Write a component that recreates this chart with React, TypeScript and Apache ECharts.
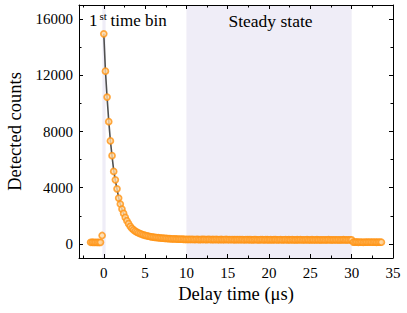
import React, { useEffect, useRef } from "react";
import * as echarts from "echarts";

// Time bins (µs): first bin centre and bin width
const binStart = -1.6;
const binWidth = 0.2;

// Detected counts per time bin
const preCounts = [118, 121, 115, 119, 113, 117, 114, 600];
const decayCounts = [
  14950, 12290, 10450, 8700, 7330, 6280, 5160, 4560, 3920, 3260,
  2840, 2480, 2170, 1890, 1650, 1440, 1250, 1110, 1005, 918,
  842, 781, 733, 688, 649, 612, 581, 549, 527, 503,
  489, 468, 457, 440, 431, 416, 409, 396, 390, 379,
  376, 365, 363, 354, 351, 345, 344, 337, 335, 330, 328,
];
const steadyCounts = [
  326, 318, 331, 322, 315, 327, 319, 312, 324, 316,
  321, 309, 318, 325, 311, 317, 306, 320, 313, 308,
  316, 304, 312, 319, 307, 301, 314, 309, 298, 311,
  305, 313, 300, 308, 296, 310, 303, 299, 307, 294,
  302, 309, 297, 293, 305, 300, 291, 306, 298, 295,
  303, 292, 299, 307, 290, 296, 301, 288, 297, 304,
  293, 299, 287, 302, 295, 289, 298, 292, 300, 286,
  296, 290, 301, 285, 294, 298, 288, 293, 299, 287,
  295, 289, 297, 284, 292, 300, 286, 294, 290, 297,
  288, 295, 283, 291, 298, 285, 293, 289, 296, 290,
];
const postCounts = [132, 125, 138, 121, 129, 134, 119, 127, 131, 124, 136, 122, 128, 133, 120, 126, 130, 123];

// Fit curve
const fitTimes = [0, 0.2, 0.4, 0.6, 0.8, 1.0, 1.2, 1.4, 1.6, 1.8, 2.0, 2.2, 2.4, 2.6, 2.8, 3.0, 3.2, 3.4, 3.6, 3.8, 4.0, 4.5, 5.0, 5.5, 6.0, 7.0, 8.0, 9.0, 10, 15, 20, 25, 30];
const fitCounts = [14950, 12300, 10420, 8740, 7340, 6240, 5230, 4520, 3900, 3290, 2840, 2470, 2160, 1890, 1650, 1450, 1265, 1115, 1000, 915, 845, 700, 612, 540, 488, 413, 372, 345, 328, 302, 295, 290, 288];

// Ticks
const xMajorTicks = [0, 5, 10, 15, 20, 25, 30, 35];
const xMinorTicks = [-2.5, 2.5, 7.5, 12.5, 17.5, 22.5, 27.5, 32.5];
const yMajorTicks = [0, 4000, 8000, 12000, 16000];
const yMinorTicks = [2000, 6000, 10000, 14000];

// Shaded regions (µs)
const shadeBands = [
  [-0.17, 0.22],
  [10, 30],
];

const FONT = "Liberation Serif";

export default function App() {
  const ref = useRef<HTMLDivElement>(null);

  useEffect(() => {
    if (!ref.current) return;
    const chart = echarts.init(ref.current, undefined, { renderer: "svg" });

    const allCounts = [...preCounts, ...decayCounts, ...steadyCounts, ...postCounts];
    const scatterData = allCounts.map((c, i) => [Math.round((binStart + i * binWidth) * 10) / 10, c]);
    const fitData = fitTimes.map((t, i) => [t, fitCounts[i]]);

    const lineStyle = { color: "#000", width: 1 };

    const xAx = (position: string, ticks: number[], len: number, showLine: boolean, showLabel: boolean, extra: any = {}) => ({
      type: "value",
      min: -3,
      max: 35,
      position,
      z: 5,
      axisLine: { show: showLine, onZero: false, lineStyle },
      axisTick: { show: true, inside: true, length: len, customValues: ticks, lineStyle },
      axisLabel: showLabel
        ? { show: true, customValues: ticks, formatter: (v: number) => String(v), fontFamily: FONT, fontSize: 15, color: "#000", margin: 7 }
        : { show: false },
      splitLine: { show: false },
      ...extra,
    });
    const yAx = (position: string, ticks: number[], len: number, showLine: boolean, showLabel: boolean, extra: any = {}) => ({
      type: "value",
      min: -1000,
      max: 17000,
      position,
      z: 5,
      axisLine: { show: showLine, onZero: false, lineStyle },
      axisTick: { show: true, inside: true, length: len, customValues: ticks, lineStyle },
      axisLabel: showLabel
        ? { show: true, customValues: ticks, formatter: (v: number) => String(v), fontFamily: FONT, fontSize: 15, color: "#000", margin: 6 }
        : { show: false },
      splitLine: { show: false },
      ...extra,
    });

    const txt = (text: string, x: number, y: number, size: number, align = "left") => ({
      type: "text",
      x,
      y,
      z: 100,
      style: { text, fontFamily: FONT, fontSize: size, font: `${size}px "Liberation Serif"`, fill: "#000", align, verticalAlign: "middle" },
    });

    chart.setOption({
      animation: false,
      backgroundColor: "#fff",
      grid: { left: 79, right: 14, top: 5, bottom: 55, containLabel: false, outerBoundsMode: "none" },
      xAxis: [
        xAx("bottom", xMajorTicks, 4, true, true, {
          name: "Delay time (μs)",
          nameLocation: "middle",
          nameGap: 26,
          nameTextStyle: { fontFamily: FONT, fontSize: 18.5, color: "#000" },
        }),
        xAx("bottom", xMinorTicks, 2.5, false, false),
        xAx("top", xMajorTicks, 4, true, false),
        xAx("top", xMinorTicks, 2.5, false, false),
      ],
      yAxis: [
        yAx("left", yMajorTicks, 4, true, true, {
          name: "Detected counts",
          nameLocation: "middle",
          nameGap: 50,
          nameTextStyle: { fontFamily: FONT, fontSize: 18.5, color: "#000" },
        }),
        yAx("left", yMinorTicks, 2.5, false, false),
        yAx("right", yMajorTicks, 4, true, false),
        yAx("right", yMinorTicks, 2.5, false, false),
      ],
      series: [
        {
          type: "line",
          data: fitData,
          xAxisIndex: 0,
          yAxisIndex: 0,
          showSymbol: false,
          symbol: "none",
          lineStyle: { color: "#505050", width: 1.6 },
          z: 2,
          silent: true,
          markArea: {
            silent: true,
            itemStyle: { color: "#efedf7" },
            data: shadeBands.map((b) => [{ xAxis: b[0] }, { xAxis: b[1] }]),
          },
        },
        {
          type: "scatter",
          data: scatterData,
          xAxisIndex: 0,
          yAxisIndex: 0,
          symbol: "circle",
          symbolSize: 6,
          itemStyle: { color: "#ffd9a6", borderColor: "#ff9414", borderWidth: 1.7 },
          z: 3,
          silent: true,
        },
      ],
      graphic: [
        txt("1", 89, 20.5, 17),
        txt("st", 99.5, 15.5, 11),
        txt("time bin", 110.5, 20.5, 17),
        txt("Steady state", 270.5, 20.5, 17.5, "center"),
      ],
    });

    return () => chart.dispose();
  }, []);

  return <div ref={ref} style={{ position: "fixed", left: 0, top: 0, width: 407, height: 313 }} />;
}
